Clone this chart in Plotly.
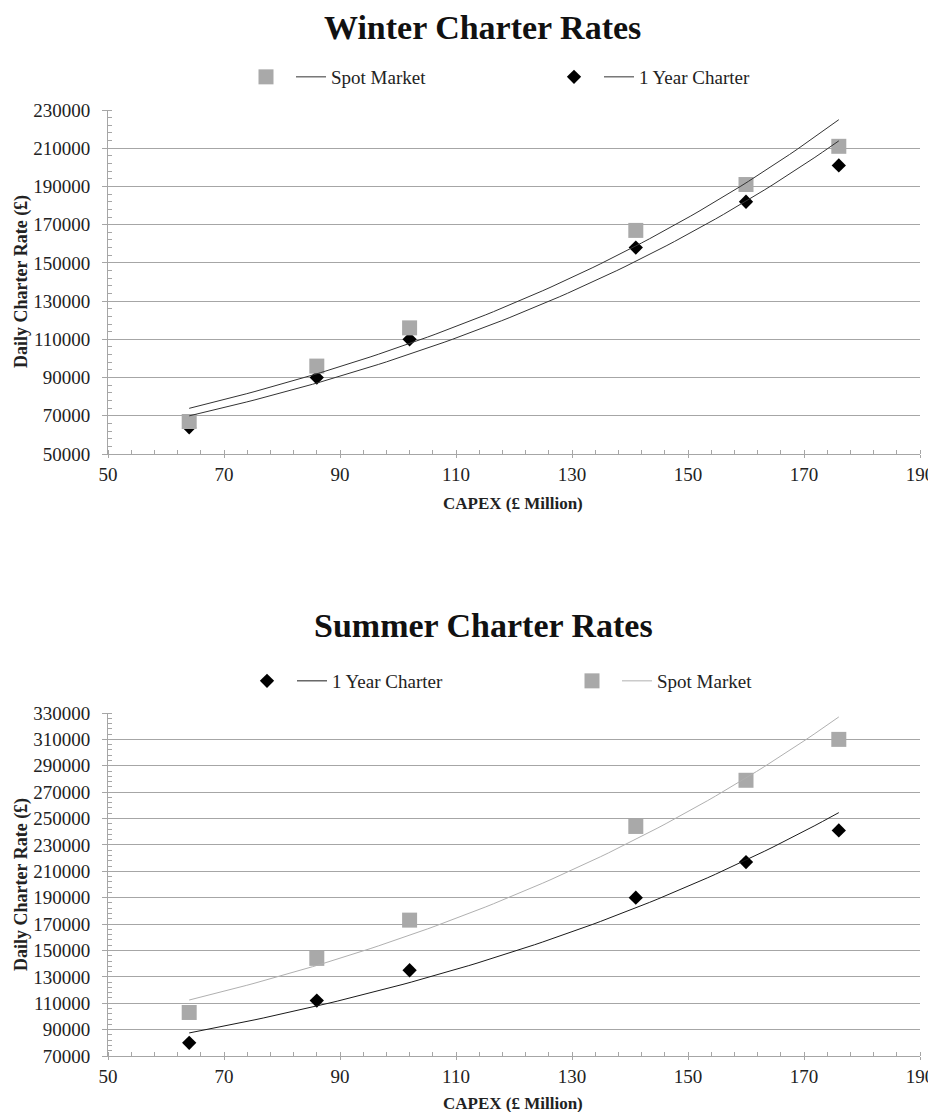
import numpy as np
import plotly.graph_objects as go

# ---------------- data ----------------
capex = [64, 86, 102, 141, 160, 176]
winter_spot = [67000, 96000, 116000, 167000, 191000, 211000]
winter_year = [64000, 90000, 110000, 158000, 182000, 201000]
summer_spot = [103000, 144000, 173000, 244000, 279000, 310000]
summer_year = [80000, 112000, 135000, 190000, 217000, 241000]

x_ticks = [50, 70, 90, 110, 130, 150, 170, 190]
winter_y_ticks = list(range(50000, 230001, 20000))
summer_y_ticks = list(range(70000, 330001, 20000))

FONT = "Liberation Serif"
OFF = 8                      # page body margin added by the browser
W, H = 936 - OFF, 1120 - 2 * OFF
L = 108 - OFF
R = W - (920 - OFF)
PW = W - L - R


def px_x(px):
    return (px - OFF - L) / PW


def px_y(py):
    return 1 - (py - OFF) / H


def exp_fit(x, y):
    x = np.asarray(x, float)
    b, a = np.polyfit(x, np.log(np.asarray(y, float)), 1)
    xs = np.linspace(x.min(), x.max(), 80)
    return xs, np.exp(a + b * xs)


SQ = dict(symbol="square", size=15, color="#a9a9a9")
DI = dict(symbol="diamond", size=11, color="#000000")

fig = go.Figure()

# ---------- Winter (top) ----------
fig.add_trace(go.Scatter(x=capex, y=winter_year, mode="markers", marker=DI,
                         name="", legend="legend2", legendrank=1,
                         xaxis="x", yaxis="y", hoverinfo="x+y"))
fig.add_trace(go.Scatter(x=capex, y=winter_spot, mode="markers", marker=SQ,
                         name="", legend="legend", legendrank=1,
                         xaxis="x", yaxis="y", hoverinfo="x+y"))
xs, ys = exp_fit(capex, winter_spot)
fig.add_trace(go.Scatter(x=xs, y=ys, mode="lines", line=dict(color="#333333", width=1),
                         name="Spot Market", legend="legend", legendrank=2,
                         xaxis="x", yaxis="y", hoverinfo="skip"))
xs, ys = exp_fit(capex, winter_year)
fig.add_trace(go.Scatter(x=xs, y=ys, mode="lines", line=dict(color="#333333", width=1),
                         name="1 Year Charter", legend="legend2", legendrank=2,
                         xaxis="x", yaxis="y", hoverinfo="skip"))

# ---------- Summer (bottom) ----------
fig.add_trace(go.Scatter(x=capex, y=summer_spot, mode="markers", marker=SQ,
                         name="", legend="legend4", legendrank=1,
                         xaxis="x2", yaxis="y2", hoverinfo="x+y"))
fig.add_trace(go.Scatter(x=capex, y=summer_year, mode="markers", marker=DI,
                         name="", legend="legend3", legendrank=1,
                         xaxis="x2", yaxis="y2", hoverinfo="x+y"))
xs, ys = exp_fit(capex, summer_year)
fig.add_trace(go.Scatter(x=xs, y=ys, mode="lines", line=dict(color="#1a1a1a", width=1),
                         name="1 Year Charter", legend="legend3", legendrank=2,
                         xaxis="x2", yaxis="y2", hoverinfo="skip"))
xs, ys = exp_fit(capex, summer_spot)
fig.add_trace(go.Scatter(x=xs, y=ys, mode="lines", line=dict(color="#b0b0b0", width=1),
                         name="Spot Market", legend="legend4", legendrank=2,
                         xaxis="x2", yaxis="y2", hoverinfo="skip"))

tick_font = dict(family=FONT, size=19, color="#222222")
axis_common = dict(
    showline=True, linecolor="#a6a6a6", linewidth=1,
    ticks="outside", tickcolor="#a6a6a6", tickwidth=1,
    tickfont=tick_font, zeroline=False, automargin=False, fixedrange=True,
)

xaxis_cfg = dict(axis_common, range=[50, 190], tickvals=x_ticks, showgrid=False, ticklen=3,
                 minor=dict(dtick=4, tick0=50, ticks="inside", ticklen=4,
                            tickcolor="#a6a6a6", showgrid=False))


def yaxis_cfg(ticks, domain, anchor):
    return dict(axis_common, range=[ticks[0], ticks[-1]], tickvals=ticks, ticklen=5,
                ticklabelstandoff=8,
                tickformat="d", showgrid=True, gridcolor="#a6a6a6", gridwidth=1,
                domain=domain, anchor=anchor,
                minor=dict(dtick=4000, tick0=ticks[0], ticks="inside", ticklen=4,
                           tickcolor="#a6a6a6", showgrid=False))


legend_common = dict(orientation="h", font=dict(family=FONT, size=19, color="#222222"),
                     bgcolor="rgba(0,0,0,0)", xanchor="left", yanchor="middle",
                     itemclick=False, itemdoubleclick=False)

fig.update_layout(
    width=W, height=H,
    margin=dict(l=L, r=R, t=0, b=0, autoexpand=False),
    paper_bgcolor="white", plot_bgcolor="white",
    font=dict(family=FONT, color="#222222"),
    xaxis=dict(xaxis_cfg, anchor="y"),
    yaxis=yaxis_cfg(winter_y_ticks, [px_y(454), px_y(110)], "x"),
    xaxis2=dict(xaxis_cfg, anchor="y2"),
    yaxis2=yaxis_cfg(summer_y_ticks, [px_y(1056), px_y(713)], "x2"),
    legend=dict(legend_common, x=px_x(246), y=px_y(77)),
    legend2=dict(legend_common, x=px_x(554), y=px_y(77)),
    legend3=dict(legend_common, x=px_x(247), y=px_y(681)),
    legend4=dict(legend_common, x=px_x(572), y=px_y(681)),
    annotations=[
        dict(text="<b>Winter Charter Rates</b>", x=px_x(482), y=px_y(28), xref="paper", yref="paper",
             showarrow=False, font=dict(family=FONT, size=34, color="#111111"), xanchor="center", yanchor="middle"),
        dict(text="<b>Summer Charter Rates</b>", x=px_x(483), y=px_y(625), xref="paper", yref="paper",
             showarrow=False, font=dict(family=FONT, size=34, color="#111111"), xanchor="center", yanchor="middle"),
        dict(text="<b>CAPEX (£ Million)</b>", x=px_x(513), y=px_y(503), xref="paper", yref="paper",
             showarrow=False, font=dict(family=FONT, size=17, color="#222222"), xanchor="center", yanchor="middle"),
        dict(text="<b>CAPEX (£ Million)</b>", x=px_x(513), y=px_y(1103), xref="paper", yref="paper",
             showarrow=False, font=dict(family=FONT, size=17, color="#222222"), xanchor="center", yanchor="middle"),
        dict(text="<b>Daily Charter Rate (£)</b>", x=px_x(21), y=px_y(282), xref="paper", yref="paper",
             showarrow=False, textangle=-90, font=dict(family=FONT, size=18, color="#222222"),
             xanchor="center", yanchor="middle"),
        dict(text="<b>Daily Charter Rate (£)</b>", x=px_x(21), y=px_y(885), xref="paper", yref="paper",
             showarrow=False, textangle=-90, font=dict(family=FONT, size=18, color="#222222"),
             xanchor="center", yanchor="middle"),
    ],
)

fig.write_html("out.html")
